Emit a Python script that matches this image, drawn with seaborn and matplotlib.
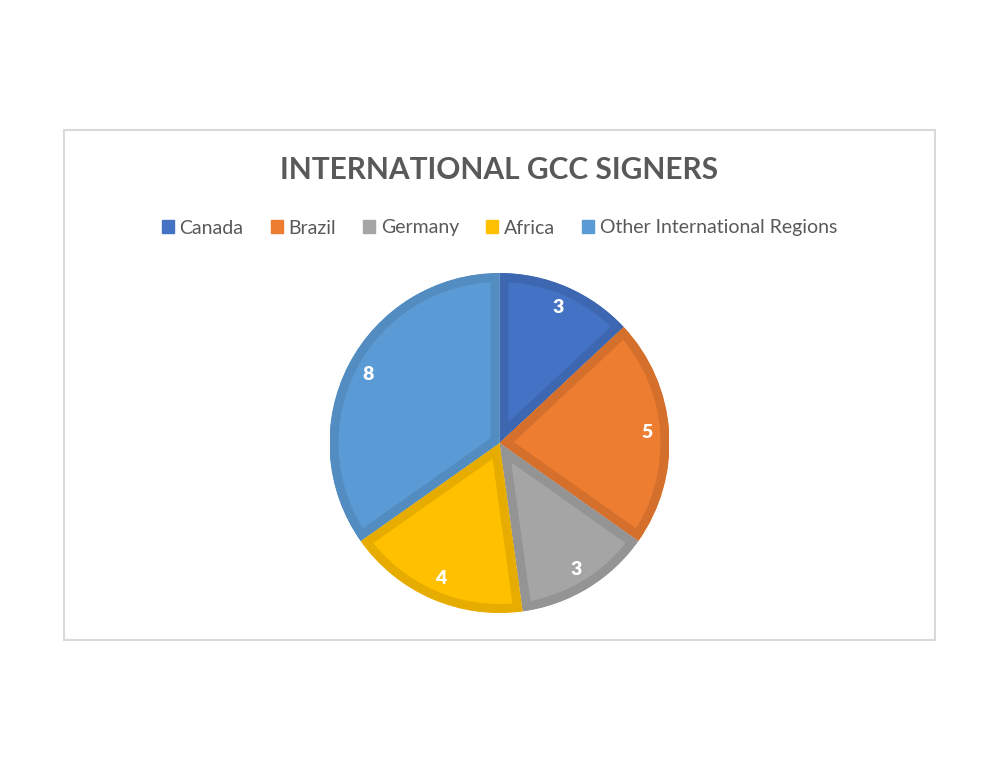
import matplotlib
matplotlib.use("Agg")
import matplotlib.pyplot as plt
import seaborn as sns
from matplotlib.patches import Rectangle, Patch, Wedge

regions = ["Canada", "Brazil", "Germany", "Africa", "Other International Regions"]
signers = [3, 5, 3, 4, 8]
fill_colors = ["#4472C4", "#ED7D31", "#A5A5A5", "#FFC000", "#5B9BD5"]
edge_colors = ["#3D67B0", "#D5702C", "#949494", "#E6AD00", "#528CC0"]

sns.set_theme(style="white")
plt.rcParams['font.family'] = ['Lato', 'DejaVu Sans']

fig = plt.figure(figsize=(9.99, 7.72), dpi=100)
fig.patch.set_facecolor("white")

# chart area frame
fig.patches.append(Rectangle((64 / 999, 132 / 772), 871 / 999, 510 / 772,
                             transform=fig.transFigure, fill=False,
                             edgecolor="#D9D9D9", linewidth=1.5))

ax = fig.add_axes([(499.5 - 170) / 999, (772 - 613) / 772, 340 / 999, 340 / 772])
total = sum(signers)
wedges, texts, autotexts = ax.pie(
    signers, colors=fill_colors, startangle=90, counterclock=False,
    radius=1, pctdistance=0.87,
    autopct=lambda p: f"{round(p * total / 100)}",
    wedgeprops=dict(linewidth=13),
)
ax.set_xlim(-1, 1)
ax.set_ylim(-1, 1)
ax.set_aspect("equal")
ax.axis("off")

# keep the darker outline inside each slice
for w, ec in zip(wedges, edge_colors):
    w.set_edgecolor(ec)
    clip = Wedge(w.center, w.r, w.theta1, w.theta2, transform=ax.transData)
    w.set_clip_on(True)
    w.set_clip_path(clip)

for t in autotexts:
    t.set_color("white")
    t.set_fontsize(14)
    t.set_fontweight("heavy")

fig.text(0.5, 1 - 170 / 772, "INTERNATIONAL GCC SIGNERS", ha="center", va="center",
         fontsize=21.5, fontweight="bold", color="#595959")

handles = [Patch(facecolor=c, edgecolor=c, label=r) for r, c in zip(regions, fill_colors)]
fig.legend(handles=handles, loc="center", bbox_to_anchor=(0.5, 1 - 228 / 772),
           ncol=5, frameon=False, fontsize=14, labelcolor="#595959",
           handlelength=0.6, handleheight=0.6, handletextpad=0.3,
           columnspacing=1.4)

fig.savefig("out.png", dpi=100)
